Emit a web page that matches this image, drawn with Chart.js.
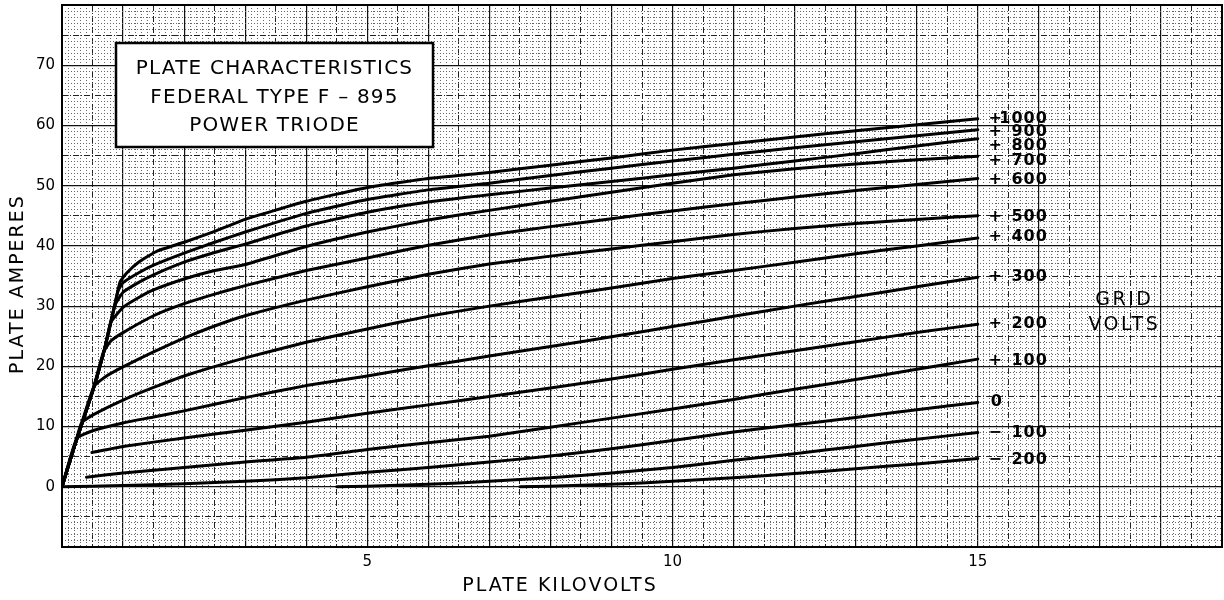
<!DOCTYPE html>
<html>
<head>
<meta charset="utf-8">
<script src="https://cdn.jsdelivr.net/npm/chart.js@4.4.1/dist/chart.umd.min.js"></script>
<style>
  body { margin: 0; background: #fff; }
</style>
</head>
<body>
<canvas id="plate" width="1224" height="600"></canvas>
<script>
// grid volts, top curve first
const gridVolts = [1000, 900, 800, 700, 600, 500, 400, 300, 200, 100, 0, -100, -200];

// [plate kilovolts, plate amperes]
const curveP1000 = [[0,0],[0.2,6.6],[0.5,15.8],[0.7,23.0],[0.85,29.5],[0.95,34.0],[1.06,35.5],[1.27,37.4],[1.55,39.1],[2,40.6],[2.5,42.4],[3,44.4],[4,47.4],[5,49.7],[6,51.2],[7,52.2],[8,53.4],[9,54.6],[10,55.9],[11,57.0],[12,58.1],[13,59.1],[14,60.1],[15,61.1]];
const curveP900 = [[0,0],[0.2,6.6],[0.5,15.8],[0.7,23.0],[0.85,29.5],[0.92,32.6],[1,33.9],[1.25,35.5],[1.5,36.8],[2,38.8],[2.5,40.6],[3,42.3],[4,45.4],[5,47.7],[6,49.3],[7,50.4],[8,51.7],[9,52.9],[10,54.1],[11,55.2],[12,56.3],[13,57.3],[14,58.3],[15,59.3]];
const curveP800 = [[0,0],[0.2,6.6],[0.5,15.8],[0.7,23.0],[0.86,30.0],[1,32.3],[1.25,33.9],[1.5,35.2],[2,37.3],[2.5,38.9],[3,40.3],[4,43.3],[5,45.6],[6,47.3],[7,48.5],[8,49.6],[9,50.7],[10,51.8],[11,52.9],[12,54.1],[13,55.3],[14,56.6],[15,57.8]];
const curveP700 = [[0,0],[0.2,6.6],[0.5,15.8],[0.7,23.0],[0.8,27.3],[1,29.8],[1.25,31.4],[1.5,32.7],[2,34.5],[2.5,35.9],[3,36.9],[4,39.9],[5,42.3],[6,44.3],[7,45.9],[8,47.4],[9,48.9],[10,50.4],[11,51.8],[12,52.8],[13,53.6],[14,54.3],[15,54.9]];
const curveP600 = [[0,0],[0.2,6.6],[0.5,15.8],[0.68,22.4],[0.8,24.2],[1,25.6],[1.5,28.4],[2,30.4],[2.5,32.0],[3,33.4],[4,35.9],[5,38.0],[6,40.1],[7,41.8],[8,43.2],[9,44.5],[10,45.8],[11,47.0],[12,48.1],[13,49.2],[14,50.2],[15,51.2]];
const curveP500 = [[0,0],[0.2,6.6],[0.52,16.6],[0.7,18.2],[1,19.9],[1.5,22.4],[2,24.7],[2.5,26.7],[3,28.4],[4,31.0],[5,33.2],[6,35.3],[7,37.0],[8,38.3],[9,39.5],[10,40.7],[11,41.9],[12,42.9],[13,43.7],[14,44.4],[15,45.0]];
const curveP400 = [[0,0],[0.2,6.6],[0.32,10.6],[0.5,11.9],[1,14.4],[1.5,16.5],[2,18.4],[3,21.4],[4,24.0],[5,26.2],[6,28.3],[7,30.0],[8,31.5],[9,33.0],[10,34.6],[11,35.9],[12,37.3],[13,38.7],[14,40.0],[15,41.3]];
const curveP300 = [[0,0],[0.24,8.0],[0.5,9.3],[1,10.6],[1.5,11.6],[2,12.6],[3,14.8],[4,16.8],[5,18.4],[6,20.1],[7,21.7],[8,23.3],[9,24.9],[10,26.6],[11,28.3],[12,30.0],[13,31.6],[14,33.2],[15,34.8]];
const curveP200 = [[0.49,5.7],[1,6.7],[2,8.1],[3,9.4],[4,10.7],[5,12.2],[6,13.6],[7,15.0],[8,16.4],[9,17.9],[10,19.5],[11,21.1],[12,22.6],[13,24.1],[14,25.6],[15,27.0]];
const curveP100 = [[0.4,1.6],[1,2.3],[2,3.2],[3,4.1],[4,4.9],[5,6.2],[6,7.3],[7,8.4],[8,9.9],[9,11.4],[10,12.9],[11,14.5],[12,16.2],[13,17.8],[14,19.5],[15,21.2]];
const curveZero = [[0,0],[1,0.2],[2,0.5],[3,0.9],[4,1.5],[5,2.4],[6,3.2],[7,4.1],[8,5.1],[9,6.3],[10,7.7],[11,9.1],[12,10.3],[13,11.5],[14,12.8],[15,14.0]];
const curveM100 = [[4.5,0],[5,0.1],[6,0.4],[7,0.9],[8,1.5],[9,2.3],[10,3.2],[11,4.4],[12,5.5],[13,6.7],[14,7.9],[15,9.0]];
const curveM200 = [[7.5,0],[8,0.1],[9,0.4],[10,0.9],[11,1.5],[12,2.2],[13,3.0],[14,3.8],[15,4.7]];

const curves = [curveP1000, curveP900, curveP800, curveP700, curveP600, curveP500, curveP400,
                curveP300, curveP200, curveP100, curveZero, curveM100, curveM200];

const kvLabels = [5, 10, 15];
const ampLabels = [0, 10, 20, 30, 40, 50, 60, 70];
const titleLines = ['PLATE CHARACTERISTICS', 'FEDERAL TYPE F – 895', 'POWER TRIODE'];

// small vertical nudges so the crowded labels at the right don't overlap
const labelNudge = [0, 2, 7, 5, 1, 1, -1, 0, 0, 2, -1, 0, 1];

const FONT = '"DejaVu Sans", sans-serif';

function spaced(ctx, px) {
  if ('letterSpacing' in ctx) ctx.letterSpacing = px + 'px';
}

const annotate = {
  id: 'annotate',
  beforeDatasetsDraw(chart) {
    const {ctx, chartArea: a} = chart;
    ctx.save();
    ctx.strokeStyle = '#000';
    ctx.lineWidth = 2;
    ctx.strokeRect(a.left, a.top, a.right - a.left, a.bottom - a.top);
    ctx.restore();
  },
  afterDatasetsDraw(chart) {
    const {ctx, chartArea: a, scales: {x, y}} = chart;
    ctx.save();

    // title box
    const bx = a.left + 54, by = a.top + 38, bw = 317, bh = 104;
    ctx.fillStyle = '#fff';
    ctx.fillRect(bx, by, bw, bh);
    ctx.strokeStyle = '#000';
    ctx.lineWidth = 2.5;
    ctx.strokeRect(bx, by, bw, bh);
    ctx.fillStyle = '#000';
    ctx.textAlign = 'center';
    ctx.textBaseline = 'middle';
    ctx.font = '20px ' + FONT;
    spaced(ctx, 1.2);
    titleLines.forEach((t, i) => ctx.fillText(t, bx + bw / 2, by + 26 + i * 28.5));

    // grid volt labels at the end of each curve
    ctx.font = 'bold 16px ' + FONT;
    spaced(ctx, 1);
    curves.forEach((c, i) => {
      const last = c[c.length - 1];
      const ex = x.getPixelForValue(last[0]);
      const ey = y.getPixelForValue(last[1]) + labelNudge[i];
      const v = gridVolts[i];
      ctx.textAlign = 'center';
      if (v === 0) {
        ctx.fillText('0', ex + 19, ey);
        return;
      }
      ctx.fillText(v > 0 ? '+' : '−', ex + 18, ey);
      ctx.textAlign = 'right';
      ctx.fillText(String(Math.abs(v)), ex + 70, ey);
    });

    // GRID VOLTS
    ctx.font = '19px ' + FONT;
    spaced(ctx, 2.5);
    ctx.textAlign = 'center';
    ctx.fillText('GRID', x.getPixelForValue(17.4), y.getPixelForValue(31));
    ctx.fillText('VOLTS', x.getPixelForValue(17.4), y.getPixelForValue(26.8));

    // axis titles
    ctx.font = '19px ' + FONT;
    spaced(ctx, 2);
    ctx.fillText('PLATE KILOVOLTS', a.left + 498, 586);
    ctx.translate(18, a.top + 279);
    ctx.rotate(-Math.PI / 2);
    ctx.fillText('PLATE AMPERES', 0, 0);
    ctx.restore();
  }
};

const tickFont = {family: FONT, size: 15};

function noPad(s) {
  s.paddingTop = 0; s.paddingBottom = 0; s.paddingLeft = 0; s.paddingRight = 0;
}

function gridAxis(pos, step, keep, color, dash, width) {
  return {
    type: 'linear',
    position: pos,
    ticks: {display: false, stepSize: step, maxTicksLimit: 1000, autoSkip: false},
    grid: {
      drawTicks: false,
      lineWidth: width,
      color: c => (c.tick && keep(c.tick.value)) ? color : 'rgba(0,0,0,0)'
    },
    border: {display: false, dash: dash},
    afterFit: s => { if (pos === 'bottom') s.height = 0; else s.width = 0; noPad(s); }
  };
}

const halfKV = v => Math.round(v * 2) % 2 === 1;
const tenthKV = v => Math.round(v * 10) % 5 !== 0;
const fiveA = v => Math.round(v) % 10 !== 0 && Math.round(v) % 5 === 0;
const oneA = v => Math.round(v) % 5 !== 0;

const xHalf = gridAxis('bottom', 0.5, halfKV, '#222', [6, 2, 1, 2], 1);
const xMinor = gridAxis('bottom', 0.1, tenthKV, '#666', [1, 2], 1);
const yHalf = gridAxis('left', 1, fiveA, '#222', [6, 2, 1, 2], 1);
const yMinor = gridAxis('left', 1, oneA, '#666', [1, 2], 1);
[xHalf, xMinor].forEach(s => { s.min = 0; s.max = 19; });
[yHalf, yMinor].forEach(s => { s.min = -10; s.max = 80; });

new Chart(document.getElementById('plate'), {
  type: 'scatter',
  data: {
    datasets: curves.map((c, i) => ({
      label: String(gridVolts[i]),
      data: c,
      showLine: true,
      borderColor: '#000',
      backgroundColor: '#000',
      borderWidth: 3,
      pointRadius: 0,
      tension: 0.15,
      borderCapStyle: 'round',
      borderJoinStyle: 'round'
    }))
  },
  options: {
    responsive: false,
    animation: false,
    devicePixelRatio: 1,
    layout: {padding: {top: 5, right: 2, left: 0, bottom: 0}},
    plugins: {legend: {display: false}, tooltip: {enabled: false}},
    scales: {
      x: {
        type: 'linear', position: 'bottom', min: 0, max: 19,
        ticks: {
          stepSize: 1, autoSkip: false, maxRotation: 0, padding: 6,
          color: '#000', font: tickFont,
          callback: v => kvLabels.includes(Math.round(v)) && Math.abs(v - Math.round(v)) < 1e-6 ? String(Math.round(v)) : ''
        },
        grid: {color: '#111', lineWidth: 1.2, drawTicks: false},
        border: {display: true, color: '#000', width: 2},
        afterFit: s => { s.height = 53; noPad(s); }
      },
      xHalf: xHalf,
      xMinor: xMinor,
      y: {
        type: 'linear', position: 'left', min: -10, max: 80,
        ticks: {
          stepSize: 10, autoSkip: false, padding: 7,
          color: '#000', font: tickFont,
          callback: v => ampLabels.includes(v) ? String(v) : ''
        },
        grid: {color: '#111', lineWidth: 1.2, drawTicks: false},
        border: {display: true, color: '#000', width: 2},
        afterFit: s => { s.width = 62; noPad(s); }
      },
      yHalf: yHalf,
      yMinor: yMinor
    }
  },
  plugins: [annotate]
});
</script>
</body>
</html>
